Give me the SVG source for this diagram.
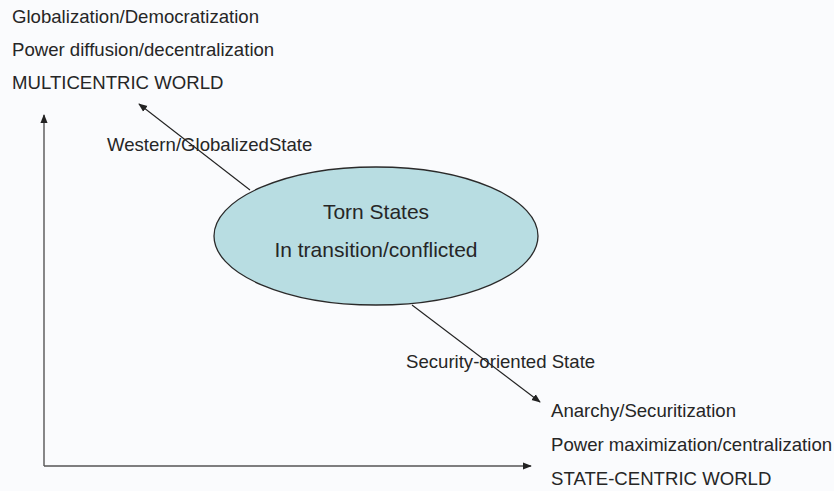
<svg xmlns="http://www.w3.org/2000/svg" width="834" height="491" viewBox="0 0 834 491">
  <defs>
    <marker id="head" viewBox="0 0 10 10" refX="9" refY="5" markerWidth="9" markerHeight="9" markerUnits="userSpaceOnUse" orient="auto">
      <path d="M0,1 L10,5 L0,9 Z" fill="#222"/>
    </marker>
    <style>
      text { font-family: "Liberation Sans", Arial, sans-serif; fill: #262626; }
      .lbl { font-size: 18.6px; }
      .node-text { font-size: 21px; text-anchor: middle; }
      .axis { stroke: #555; stroke-width: 1.4; fill: none; }
      .arrow { stroke: #222; stroke-width: 1.1; fill: none; marker-end: url(#head); }
    </style>
  </defs>

  <rect width="834" height="491" fill="#fafbfd"/>

  <!-- axes -->
  <g id="connectors">
    <path class="axis" d="M44,466 L44,115" marker-end="url(#head)"/>
    <path class="axis" d="M44,466 L531,466" marker-end="url(#head)"/>
    <line class="arrow" x1="250" y1="190" x2="139" y2="104"/>
    <line class="arrow" x1="412" y1="305" x2="540" y2="402"/>
  </g>

  <!-- upper pole -->
  <g id="multicentric">
    <text class="lbl" x="12" y="23">Globalization/Democratization</text>
    <text class="lbl" x="12" y="56">Power diffusion/decentralization</text>
    <text class="lbl" x="12" y="89">MULTICENTRIC WORLD</text>
  </g>

  <g id="western-label">
    <text class="lbl" x="107" y="151">Western/GlobalizedState</text>
  </g>

  <!-- central node -->
  <g id="torn-states">
    <ellipse cx="376" cy="236" rx="162" ry="69" fill="#b8dde2" stroke="#2a2a2a" stroke-width="1.3"/>
    <text class="node-text" x="376" y="219">Torn States</text>
    <text class="node-text" x="376" y="257">In transition/conflicted</text>
  </g>

  <g id="security-label">
    <text class="lbl" x="406" y="368">Security-oriented State</text>
  </g>

  <!-- lower pole -->
  <g id="state-centric">
    <text class="lbl" x="551" y="417">Anarchy/Securitization</text>
    <text class="lbl" x="551" y="451">Power maximization/centralization</text>
    <text class="lbl" x="551" y="485">STATE-CENTRIC WORLD</text>
  </g>
</svg>
